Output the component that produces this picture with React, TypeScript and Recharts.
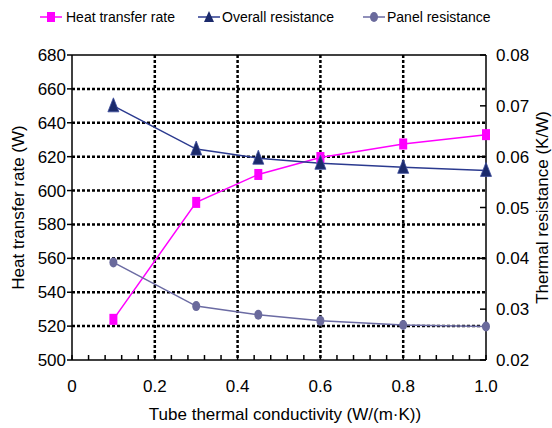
import { CartesianGrid, Line, LineChart, ReferenceLine, XAxis, YAxis } from 'recharts'

const conductivity = [0.1, 0.3, 0.45, 0.6, 0.8, 1.0]
const heatTransferRate = [524, 593, 609.5, 619.5, 627.5, 633]
const overallResistance = [0.07, 0.0615, 0.0597, 0.0587, 0.0579, 0.0573]
const panelResistance = [0.0392, 0.0306, 0.0289, 0.0277, 0.0269, 0.0266]

const xMajorTicks = [0, 0.2, 0.4, 0.6, 0.8, 1.0]
const xMinorTicks = [
  0, 0.04, 0.08, 0.12, 0.16, 0.2, 0.24, 0.28, 0.32, 0.36, 0.4, 0.44, 0.48,
  0.52, 0.56, 0.6, 0.64, 0.68, 0.72, 0.76, 0.8, 0.84, 0.88, 0.92, 0.96, 1.0,
]
const leftTicks = [500, 520, 540, 560, 580, 600, 620, 640, 660, 680]
const rightTicks = [0.02, 0.03, 0.04, 0.05, 0.06, 0.07, 0.08]
const gridRows = [520, 540, 560, 580, 600, 620, 640, 660]
const gridCols = [0.2, 0.4, 0.6, 0.8]

const FONT = '"Liberation Sans", Arial, sans-serif'
const MAGENTA = '#FF00FF'
const NAVY_LINE = '#2B3A8F'
const NAVY_MARK = '#1B2A6B'
const GRAY_LINE = '#6B6BA3'
const GRAY_MARK = '#6A6A9C'

const data = conductivity.map((x, i) => ({
  x,
  heat: heatTransferRate[i],
  overall: overallResistance[i],
  panel: panelResistance[i],
}))

function XTick({ x, y, payload }: any) {
  const v = payload.value
  const major = xMajorTicks.some((t) => Math.abs(t - v) < 1e-6)
  const base = y - 20
  return (
    <g>
      <line x1={x} x2={x} y1={base} y2={base - 5} stroke="#000" strokeWidth={1.5} />
      {major && (
        <text x={x} y={y} dy="0.71em" textAnchor="middle" fontSize={17} fill="#000">
          {v === 0 ? '0' : v.toFixed(1)}
        </text>
      )}
    </g>
  )
}

function RightTick({ x, y, payload }: any) {
  const axisX = x - 10
  return (
    <g>
      <line x1={axisX} x2={axisX - 6} y1={y} y2={y} stroke="#000" strokeWidth={1.5} />
      <text x={x} y={y} dy="0.355em" textAnchor="start" fontSize={17} fill="#000">
        {payload.value.toFixed(2)}
      </text>
    </g>
  )
}

const squareDot = (p: any) => (
  <rect key={`sq-${p.index}`} x={p.cx - 4} y={p.cy - 5.5} width={8} height={11} fill={MAGENTA} />
)
const triangleDot = (p: any) => (
  <polygon
    key={`tri-${p.index}`}
    points={`${p.cx},${p.cy - 8} ${p.cx - 5.5},${p.cy + 6} ${p.cx + 5.5},${p.cy + 6}`}
    fill={NAVY_MARK}
    stroke="#3A4A9A"
    strokeWidth={0.8}
  />
)
const circleDot = (p: any) => (
  <ellipse key={`ci-${p.index}`} cx={p.cx} cy={p.cy} rx={4} ry={5} fill={GRAY_MARK} />
)

const legendItems = [
  { label: 'Heat transfer rate', color: MAGENTA, marker: 'square', iconX: 40, textX: 66 },
  { label: 'Overall resistance', color: NAVY_LINE, marker: 'triangle', iconX: 198, textX: 222 },
  { label: 'Panel resistance', color: GRAY_LINE, marker: 'circle', iconX: 363, textX: 387 },
]

function LegendIcon({ marker, color }: { marker: string; color: string }) {
  return (
    <svg width={22} height={14} style={{ display: 'block' }}>
      <line x1={0} x2={22} y1={7} y2={7} stroke={color} strokeWidth={1.5} />
      {marker === 'square' && <rect x={7} y={2} width={8} height={10} fill={MAGENTA} />}
      {marker === 'triangle' && <polygon points="11,1 6,12 16,12" fill={NAVY_MARK} />}
      {marker === 'circle' && <ellipse cx={11} cy={7} rx={4} ry={5} fill={GRAY_MARK} />}
    </svg>
  )
}

export default function App() {
  return (
    <div
      style={{
        position: 'absolute',
        left: 0,
        top: 0,
        width: 552,
        height: 428,
        background: '#fff',
        fontFamily: FONT,
      }}
    >
      {legendItems.map((item) => (
        <div key={item.label}>
          <div style={{ position: 'absolute', left: item.iconX, top: 10 }}>
            <LegendIcon marker={item.marker} color={item.color} />
          </div>
          <div
            style={{
              position: 'absolute',
              left: item.textX,
              top: 9,
              fontSize: 14,
              lineHeight: '16px',
              color: '#000',
              whiteSpace: 'nowrap',
            }}
          >
            {item.label}
          </div>
        </div>
      ))}
      <LineChart
        width={552}
        height={428}
        data={data}
        margin={{ top: 55, right: 0, bottom: 0, left: 0 }}
        style={{ fontFamily: FONT }}
      >
        <CartesianGrid
          xAxisId="main"
          yAxisId="left"
          horizontalValues={gridRows}
          verticalValues={gridCols}
          stroke="#000"
          strokeWidth={2.5}
          strokeDasharray="3 2"
        />
        <XAxis
          xAxisId="main"
          dataKey="x"
          type="number"
          domain={[0, 1]}
          ticks={xMinorTicks}
          interval={0}
          height={68}
          tickSize={0}
          tickMargin={20}
          tickLine={false}
          tick={<XTick />}
          axisLine={{ stroke: '#000', strokeWidth: 1.5 }}
          label={{
            value: 'Tube thermal conductivity (W/(m·K))',
            position: 'insideBottom',
            offset: 8,
            dx: 6,
            fontSize: 17,
            fill: '#000',
          }}
        />
        <YAxis
          yAxisId="left"
          orientation="left"
          type="number"
          domain={[500, 680]}
          ticks={leftTicks}
          interval={0}
          width={72}
          tickSize={5}
          tickMargin={1}
          tick={{ fill: '#000', fontSize: 17 }}
          tickLine={{ stroke: '#000', strokeWidth: 1.5 }}
          axisLine={{ stroke: '#000', strokeWidth: 1.5 }}
          label={{
            value: 'Heat transfer rate (W)',
            angle: -90,
            position: 'insideLeft',
            offset: 18,
            fontSize: 17,
            fill: '#000',
            style: { textAnchor: 'middle' },
          }}
        />
        <YAxis
          yAxisId="right"
          orientation="right"
          type="number"
          domain={[0.02, 0.08]}
          ticks={rightTicks}
          interval={0}
          width={66}
          tickSize={0}
          tickMargin={10}
          tickLine={false}
          tick={<RightTick />}
          axisLine={{ stroke: '#000', strokeWidth: 1.5 }}
          label={{
            value: 'Thermal resistance (K/W)',
            angle: -90,
            position: 'insideRight',
            offset: 10,
            fontSize: 17,
            fill: '#000',
            style: { textAnchor: 'middle' },
          }}
        />
        <ReferenceLine xAxisId="main" yAxisId="left" y={680} stroke="#000" strokeWidth={1.5} />
        <Line
          xAxisId="main"
          yAxisId="left"
          dataKey="heat"
          stroke={MAGENTA}
          strokeWidth={1.5}
          dot={squareDot}
          activeDot={false}
          isAnimationActive={false}
        />
        <Line
          xAxisId="main"
          yAxisId="right"
          dataKey="overall"
          stroke={NAVY_LINE}
          strokeWidth={1.5}
          dot={triangleDot}
          activeDot={false}
          isAnimationActive={false}
        />
        <Line
          xAxisId="main"
          yAxisId="right"
          dataKey="panel"
          stroke={GRAY_LINE}
          strokeWidth={1.5}
          dot={circleDot}
          activeDot={false}
          isAnimationActive={false}
        />
      </LineChart>
    </div>
  )
}
